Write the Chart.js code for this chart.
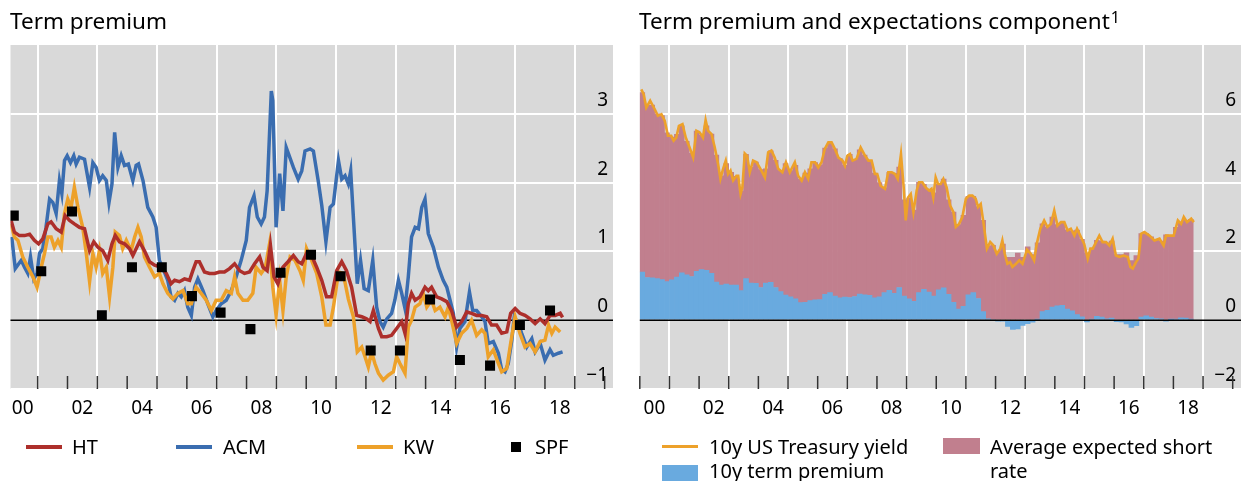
<!DOCTYPE html>
<html>
<head>
<meta charset="utf-8">
<script src="https://cdn.jsdelivr.net/npm/chart.js@4.4.1/dist/chart.umd.min.js"></script>
<style>
  html, body { margin:0; padding:0; background:#fff; width:1242px; height:481px; overflow:hidden; }
  body { position:relative; font-family:"Noto Sans", sans-serif; color:#000; }
  canvas { position:absolute; top:0; }
  #leftChart { left:0; }
  #rightChart { left:630px; }
  .title { position:absolute; top:6px; font-size:22.5px; line-height:30px; white-space:nowrap; }
  .title sup { font-size:16px; vertical-align:top; position:relative; top:-4px; margin-left:1px; }
  .lg { position:absolute; font-size:20px; line-height:24px; white-space:nowrap; }
  .sw { position:absolute; }
</style>
</head>
<body>
<canvas id="leftChart" width="630" height="481"></canvas>
<canvas id="rightChart" width="630" height="481"></canvas>

<div class="title" style="left:10px">Term premium</div>
<div class="title" style="left:639px">Term premium and expectations component<sup>1</sup></div>

<!-- left legend -->
<div class="sw" style="left:26px;top:445px;width:36px;height:4px;background:#ad2f2b"></div>
<div class="lg" style="left:72px;top:435px">HT</div>
<div class="sw" style="left:176px;top:445px;width:36px;height:4px;background:#3a6db0"></div>
<div class="lg" style="left:223px;top:435px">ACM</div>
<div class="sw" style="left:357px;top:445px;width:36px;height:4px;background:#eda12a"></div>
<div class="lg" style="left:403px;top:435px">KW</div>
<div class="sw" style="left:511px;top:442px;width:10px;height:10px;background:#000"></div>
<div class="lg" style="left:535px;top:435px">SPF</div>

<!-- right legend -->
<div class="sw" style="left:662px;top:445px;width:36px;height:3px;background:#eda12a"></div>
<div class="lg" style="left:709px;top:435px">10y US Treasury yield</div>
<div class="sw" style="left:662px;top:465px;width:36px;height:16px;background:#69aadf"></div>
<div class="lg" style="left:709px;top:459px">10y term premium</div>
<div class="sw" style="left:943px;top:438px;width:37px;height:16px;background:#c17f8e"></div>
<div class="lg" style="left:990px;top:435px">Average expected short</div>
<div class="lg" style="left:990px;top:459px">rate</div>

<script>
// ---- left panel: term premium estimates, [decimal year, % pts] ----
const htSeries = [[2000.11,1.45],[2000.22,1.28],[2000.39,1.23],[2000.56,1.23],[2000.73,1.25],[2000.89,1.16],[2001.03,1.11],[2001.17,1.18],[2001.34,1.40],[2001.45,1.43],[2001.62,1.33],[2001.79,1.28],[2001.92,1.52],[2002.07,1.45],[2002.23,1.40],[2002.40,1.35],[2002.57,1.33],[2002.74,1.01],[2002.88,1.14],[2003.02,1.06],[2003.18,1.01],[2003.35,0.87],[2003.49,1.11],[2003.60,1.23],[2003.74,1.14],[2003.91,1.11],[2004.08,1.04],[2004.19,0.94],[2004.30,1.04],[2004.41,1.14],[2004.58,1.01],[2004.75,0.85],[2004.92,0.80],[2005.14,0.77],[2005.31,0.68],[2005.47,0.53],[2005.59,0.58],[2005.75,0.56],[2005.92,0.60],[2006.09,0.58],[2006.20,0.72],[2006.31,0.85],[2006.42,0.85],[2006.59,0.70],[2006.76,0.68],[2006.93,0.68],[2007.09,0.70],[2007.26,0.70],[2007.43,0.75],[2007.60,0.82],[2007.77,0.72],[2007.93,0.68],[2008.10,0.70],[2008.27,0.82],[2008.44,0.92],[2008.55,0.77],[2008.69,0.72],[2008.80,1.09],[2008.92,0.63],[2009.05,0.53],[2009.22,0.77],[2009.39,0.85],[2009.57,0.94],[2009.73,0.85],[2009.85,0.82],[2010.01,0.97],[2010.18,0.94],[2010.35,0.77],[2010.52,0.58],[2010.68,0.34],[2010.85,0.34],[2011.02,0.72],[2011.19,0.85],[2011.35,0.72],[2011.52,0.48],[2011.69,0.07],[2011.86,0.05],[2012.02,0.02],[2012.14,-0.02],[2012.25,0.14],[2012.42,-0.12],[2012.53,-0.24],[2012.70,-0.24],[2012.86,-0.22],[2013.03,-0.12],[2013.20,-0.02],[2013.31,-0.19],[2013.42,0.24],[2013.53,0.39],[2013.65,0.29],[2013.81,0.34],[2013.98,0.48],[2014.09,0.43],[2014.20,0.48],[2014.37,0.34],[2014.54,0.31],[2014.71,0.27],[2014.87,0.14],[2015.04,-0.10],[2015.21,-0.02],[2015.38,0.12],[2015.54,0.10],[2015.71,0.07],[2015.88,0.07],[2016.05,0.05],[2016.21,-0.07],[2016.38,-0.07],[2016.55,-0.19],[2016.72,-0.17],[2016.85,0.10],[2017.00,0.17],[2017.16,0.10],[2017.33,0.07],[2017.50,0.02],[2017.67,-0.05],[2017.84,0.02],[2018.00,-0.05],[2018.17,0.07],[2018.34,0.07],[2018.51,0.10],[2018.59,0.04]];

const acmSeries = [[2000.13,1.21],[2000.25,0.75],[2000.45,0.87],[2000.56,0.77],[2000.67,0.68],[2000.76,0.92],[2000.87,0.60],[2000.98,0.68],[2001.06,0.97],[2001.17,1.04],[2001.28,1.35],[2001.40,1.76],[2001.51,1.71],[2001.62,1.55],[2001.73,2.03],[2001.81,1.84],[2001.90,2.32],[2001.99,2.39],[2002.10,2.29],[2002.21,2.39],[2002.29,2.27],[2002.40,2.37],[2002.57,2.34],[2002.74,1.93],[2002.85,2.29],[2002.96,2.22],[2003.07,2.03],[2003.18,2.10],[2003.30,2.03],[2003.39,1.71],[2003.49,1.98],[2003.58,2.73],[2003.69,2.22],[2003.80,2.39],[2003.91,2.25],[2004.04,2.27],[2004.19,2.03],[2004.30,2.25],[2004.38,2.27],[2004.53,2.03],[2004.69,1.64],[2004.86,1.50],[2004.97,1.35],[2005.08,0.87],[2005.20,0.75],[2005.36,0.58],[2005.47,0.34],[2005.59,0.29],[2005.70,0.39],[2005.81,0.34],[2005.92,0.43],[2006.03,0.19],[2006.15,0.07],[2006.26,0.48],[2006.37,0.60],[2006.54,0.43],[2006.70,0.24],[2006.87,0.05],[2006.98,0.14],[2007.15,0.24],[2007.32,0.29],[2007.49,0.43],[2007.65,0.63],[2007.82,0.87],[2007.99,1.16],[2008.10,1.64],[2008.25,1.81],[2008.36,1.50],[2008.49,1.40],[2008.60,1.50],[2008.69,1.88],[2008.83,3.33],[2008.88,3.19],[2008.99,1.35],[2009.11,2.13],[2009.22,1.59],[2009.33,2.51],[2009.57,2.22],[2009.73,2.05],[2009.85,2.17],[2009.96,2.46],[2010.13,2.49],[2010.24,2.46],[2010.40,2.03],[2010.52,1.67],[2010.66,1.14],[2010.80,1.64],[2010.91,1.69],[2011.08,2.32],[2011.19,2.05],[2011.30,2.10],[2011.41,1.98],[2011.49,2.17],[2011.60,1.35],[2011.71,0.53],[2011.82,0.87],[2011.94,0.46],[2012.08,0.43],[2012.23,0.87],[2012.36,0.19],[2012.47,-0.02],[2012.58,-0.10],[2012.70,0.02],[2012.86,0.10],[2012.97,0.29],[2013.09,0.58],[2013.20,0.39],[2013.31,0.17],[2013.42,0.63],[2013.53,1.21],[2013.65,1.35],[2013.76,1.33],[2013.87,1.64],[2013.98,1.76],[2014.09,1.26],[2014.26,1.06],[2014.43,0.77],[2014.59,0.58],[2014.71,0.48],[2014.82,0.29],[2014.93,0.10],[2015.04,-0.39],[2015.15,-0.12],[2015.32,-0.02],[2015.47,0.41],[2015.58,0.14],[2015.71,0.14],[2015.88,0.05],[2015.99,-0.02],[2016.10,-0.34],[2016.27,-0.31],[2016.44,-0.48],[2016.55,-0.72],[2016.66,-0.75],[2016.77,-0.63],[2016.89,-0.29],[2016.97,0.05],[2017.11,-0.05],[2017.22,-0.19],[2017.39,-0.39],[2017.56,-0.27],[2017.67,-0.46],[2017.84,-0.34],[2018.00,-0.58],[2018.17,-0.43],[2018.28,-0.51],[2018.45,-0.48],[2018.59,-0.46]];

const kwSeries = [[2000.11,1.40],[2000.22,1.21],[2000.34,1.16],[2000.50,0.92],[2000.67,0.77],[2000.84,0.63],[2000.98,0.48],[2001.12,0.77],[2001.23,0.97],[2001.34,1.21],[2001.45,1.21],[2001.56,1.06],[2001.68,1.16],[2001.79,1.06],[2001.90,1.55],[2002.01,1.76],[2002.12,1.64],[2002.23,1.93],[2002.35,1.64],[2002.51,1.35],[2002.63,0.97],[2002.74,0.56],[2002.85,0.97],[2002.96,0.77],[2003.07,1.01],[2003.18,0.68],[2003.30,0.77],[2003.41,0.34],[2003.52,0.77],[2003.60,1.28],[2003.74,1.23],[2003.85,1.04],[2003.97,1.16],[2004.13,1.01],[2004.25,1.21],[2004.36,1.35],[2004.47,1.21],[2004.58,0.92],[2004.75,0.77],[2004.92,0.63],[2005.08,0.68],[2005.20,0.53],[2005.36,0.39],[2005.53,0.31],[2005.70,0.39],[2005.87,0.43],[2006.03,0.24],[2006.15,0.24],[2006.31,0.48],[2006.48,0.39],[2006.65,0.29],[2006.82,0.14],[2006.98,0.29],[2007.15,0.29],[2007.32,0.43],[2007.49,0.39],[2007.60,0.63],[2007.71,0.39],[2007.88,0.29],[2008.04,0.29],[2008.21,0.39],[2008.32,0.77],[2008.49,0.68],[2008.63,0.77],[2008.77,1.11],[2008.88,0.48],[2008.99,0.07],[2009.11,0.58],[2009.22,0.14],[2009.33,0.63],[2009.46,0.92],[2009.62,0.87],[2009.79,0.72],[2009.90,0.58],[2010.01,1.04],[2010.18,0.87],[2010.35,0.68],[2010.52,0.34],[2010.66,-0.07],[2010.80,-0.07],[2010.91,0.19],[2011.08,0.70],[2011.24,0.68],[2011.41,0.31],[2011.58,0.05],[2011.71,-0.46],[2011.86,-0.39],[2011.97,-0.53],[2012.08,-0.68],[2012.19,-0.46],[2012.30,-0.63],[2012.42,-0.77],[2012.58,-0.87],[2012.75,-0.80],[2012.92,-0.75],[2013.03,-0.53],[2013.14,-0.63],[2013.31,-0.77],[2013.42,-0.10],[2013.53,0.00],[2013.65,0.19],[2013.81,0.24],[2013.92,0.39],[2014.04,0.19],[2014.20,0.29],[2014.32,0.14],[2014.48,0.19],[2014.65,0.05],[2014.76,0.19],[2014.87,0.00],[2015.04,-0.34],[2015.21,-0.19],[2015.38,-0.12],[2015.54,0.00],[2015.71,-0.22],[2015.88,-0.14],[2015.99,-0.19],[2016.10,-0.53],[2016.27,-0.43],[2016.44,-0.63],[2016.55,-0.75],[2016.72,-0.70],[2016.85,-0.34],[2017.00,0.05],[2017.16,-0.19],[2017.33,-0.39],[2017.50,-0.34],[2017.67,-0.46],[2017.84,-0.31],[2018.00,-0.29],[2018.12,-0.07],[2018.23,-0.19],[2018.34,-0.10],[2018.51,-0.17]];

const spfSeries = [[2000.20,1.52],[2001.12,0.71],[2002.15,1.58],[2003.15,0.07],[2004.16,0.77],[2005.16,0.77],[2006.17,0.35],[2007.13,0.11],[2008.13,-0.13],[2009.14,0.69],[2010.16,0.95],[2011.15,0.64],[2012.16,-0.44],[2013.14,-0.44],[2014.15,0.30],[2015.15,-0.58],[2016.16,-0.66],[2017.16,-0.07],[2018.17,0.14]];

// ---- right panel: 10y yield decomposition, % ----
const yieldSeries = [[2000.05,6.71],[2000.13,6.57],[2000.22,6.18],[2000.35,6.38],[2000.50,6.14],[2000.61,5.94],[2000.73,5.99],[2000.84,5.80],[2000.95,5.36],[2001.06,5.36],[2001.14,5.22],[2001.23,5.31],[2001.32,5.65],[2001.44,5.70],[2001.55,5.31],[2001.68,5.02],[2001.80,4.73],[2001.91,5.51],[2002.02,5.46],[2002.13,5.31],[2002.22,5.82],[2002.30,5.51],[2002.42,5.41],[2002.53,5.02],[2002.64,4.54],[2002.72,4.11],[2002.81,4.40],[2002.90,4.64],[2002.98,4.25],[2003.06,4.35],[2003.15,4.06],[2003.26,4.20],[2003.32,4.20],[2003.40,3.67],[2003.46,3.86],[2003.54,4.85],[2003.62,4.78],[2003.71,4.30],[2003.82,4.64],[2003.94,4.59],[2004.07,4.40],[2004.22,4.15],[2004.33,4.88],[2004.44,4.93],[2004.55,4.73],[2004.67,4.40],[2004.81,4.30],[2004.93,4.59],[2005.06,4.30],[2005.23,4.59],[2005.34,4.20],[2005.46,4.06],[2005.57,4.30],[2005.68,4.11],[2005.79,4.59],[2005.91,4.59],[2006.02,4.44],[2006.13,4.59],[2006.24,4.98],[2006.36,5.17],[2006.47,5.17],[2006.58,4.98],[2006.70,4.73],[2006.84,4.64],[2006.92,4.49],[2007.00,4.78],[2007.09,4.83],[2007.18,4.64],[2007.31,4.69],[2007.45,5.02],[2007.60,4.78],[2007.71,4.64],[2007.82,4.64],[2007.93,4.25],[2008.01,4.25],[2008.12,3.91],[2008.27,3.82],[2008.38,4.30],[2008.50,4.30],[2008.61,4.25],[2008.70,4.11],[2008.81,4.83],[2008.91,3.77],[2008.97,2.90],[2009.05,3.57],[2009.14,3.67],[2009.23,3.14],[2009.34,3.77],[2009.42,4.01],[2009.53,4.01],[2009.64,3.86],[2009.76,3.77],[2009.84,3.82],[2009.90,3.57],[2009.98,4.15],[2010.06,3.96],[2010.15,3.96],[2010.24,4.11],[2010.35,3.86],[2010.47,3.33],[2010.58,3.14],[2010.66,2.71],[2010.77,2.80],[2010.88,3.00],[2011.00,3.53],[2011.11,3.62],[2011.22,3.62],[2011.33,3.53],[2011.41,3.29],[2011.50,3.38],[2011.59,2.85],[2011.71,2.08],[2011.82,2.27],[2011.93,2.17],[2012.04,1.93],[2012.16,2.08],[2012.23,2.32],[2012.31,1.93],[2012.40,1.64],[2012.49,1.69],[2012.57,1.55],[2012.69,1.64],[2012.80,1.74],[2012.91,1.64],[2013.06,2.05],[2013.19,1.93],[2013.30,1.74],[2013.39,2.22],[2013.51,2.66],[2013.64,2.90],[2013.75,2.71],[2013.87,2.80],[2013.98,3.19],[2014.09,2.75],[2014.21,2.85],[2014.32,2.85],[2014.43,2.61],[2014.54,2.66],[2014.66,2.46],[2014.75,2.66],[2014.88,2.42],[2014.99,2.22],[2015.11,1.79],[2015.20,2.08],[2015.28,2.08],[2015.39,2.27],[2015.50,2.46],[2015.61,2.27],[2015.73,2.27],[2015.84,2.17],[2015.95,2.37],[2016.06,1.88],[2016.18,1.84],[2016.32,1.88],[2016.46,1.84],[2016.55,1.55],[2016.63,1.50],[2016.74,1.69],[2016.82,1.79],[2016.91,2.51],[2017.02,2.56],[2017.19,2.46],[2017.36,2.32],[2017.53,2.37],[2017.67,2.17],[2017.75,2.46],[2017.90,2.46],[2018.01,2.46],[2018.15,2.90],[2018.26,2.80],[2018.35,3.00],[2018.46,2.85],[2018.60,2.95],[2018.69,2.85]];

// bimonthly bars starting Jan 2000
const barStart = 2000;
const barStep = 1 / 6;
const termPremium = [1.40,1.24,1.23,1.21,1.18,1.12, 1.17,1.25,1.38,1.32,1.27,1.42, 1.47,1.45,1.36,1.11,1.02,1.05, 1.02,1.02,0.86,1.21,1.08,1.07, 0.95,1.08,1.10,0.95,0.83,0.73, 0.68,0.62,0.51,0.52,0.57,0.59, 0.60,0.75,0.80,0.70,0.65,0.67, 0.66,0.69,0.76,0.74,0.72,0.65, 0.68,0.80,0.87,0.78,0.95,0.70, 0.62,0.55,0.80,0.90,0.82,0.70, 0.88,0.94,0.75,0.52,0.32,0.40, 0.74,0.80,0.63,0.25,0.04,0.00, -0.01,-0.01,-0.18,-0.27,-0.25,-0.15, -0.10,-0.06,0.02,0.25,0.29,0.38, 0.42,0.43,0.32,0.27,0.16,0.10, -0.05,0.03,0.11,0.09,0.04,0.06, -0.04,-0.05,-0.11,-0.21,-0.16,0.09, 0.13,0.09,0.05,0.04,-0.02,0.01, 0.03,0.07,0.06,0.02];
const expectedShort = [5.22,5.01,5.02,4.79,4.77,4.33, 4.15,4.15,4.27,3.88,3.58,4.08, 3.91,4.20,4.05,3.69,3.18,3.50, 3.28,3.16,2.89,3.61,3.37,3.53, 3.43,3.32,3.82,3.70,3.52,3.82, 3.67,3.88,3.59,3.76,3.83,3.99, 3.92,4.25,4.37,4.28,4.05,3.83, 4.16,3.98,4.19,4.06,3.92,3.63, 3.32,3.05,3.43,3.49,3.50,2.80, 2.93,2.65,3.21,3.05,2.96,3.00, 3.08,3.16,2.75,2.62,2.46,2.65, 2.86,2.80,2.67,2.65,2.11,2.18, 2.01,2.21,1.83,1.83,1.95,1.83, 2.13,1.91,2.23,2.55,2.42,2.62, 2.36,2.42,2.31,2.33,2.46,2.25, 1.95,2.05,2.21,2.21,2.21,2.24, 1.91,1.91,1.96,1.73,1.88,2.43, 2.39,2.33,2.29,2.26,2.48,2.45, 2.67,2.75,2.84,2.91];

// axis ticks: gridlines at odd years, labels centred on the even year
const gridYears = [2001, 2003, 2005, 2007, 2009, 2011, 2013, 2015, 2017, 2019];
const yearLabels = ['00', '02', '04', '06', '08', '10', '12', '14', '16', '18'];

const RED = '#ad2f2b', BLUE = '#3a6db0', ORANGE = '#eda12a';
const TP_BLUE = '#69aadf', PINK = '#c17f8e', PANEL = '#d9d9d9';
const FONT = { family: '"Noto Sans", sans-serif', size: 19 };

const toPoints = s => s.map(p => ({ x: p[0], y: p[1] }));
const barPoints = vals => vals.map((v, i) => ({ x: barStart + (i + 0.5) * barStep, y: v }));
const fmtNum = v => (v < 0 ? '\u2212' + Math.abs(v) : String(v));

// grey panel, year tick marks and the black zero line
const panelDeco = {
    id: 'panelDeco',
    beforeDraw(chart) {
        const { ctx, chartArea: a } = chart;
        ctx.save();
        ctx.fillStyle = PANEL;
        ctx.fillRect(a.left, a.top, a.width, a.height);
        ctx.restore();
    },
    beforeDatasetsDraw(chart, args, opts) {
        const { ctx, chartArea: a } = chart;
        const xs = chart.scales.x;
        ctx.save();
        ctx.strokeStyle = '#333';
        ctx.lineWidth = 1.5;
        ctx.beginPath();
        for (let yr = Math.ceil(xs.min); yr <= xs.max; yr++) {
            const px = xs.getPixelForValue(yr);
            ctx.moveTo(px, a.bottom);
            ctx.lineTo(px, a.bottom - 13);
        }
        ctx.stroke();
        ctx.restore();
        if (!opts.zeroOnTop) drawZero(chart);
    },
    afterDatasetsDraw(chart, args, opts) {
        if (opts.zeroOnTop) drawZero(chart);
    }
};

function drawZero(chart) {
    const { ctx, chartArea: a } = chart;
    const py = chart.scales.y.getPixelForValue(0);
    ctx.save();
    ctx.strokeStyle = '#000';
    ctx.lineWidth = 1.6;
    ctx.beginPath();
    ctx.moveTo(a.left, py);
    ctx.lineTo(a.right, py);
    ctx.stroke();
    ctx.restore();
}

function xScale(min, max) {
    return {
        type: 'linear', min: min, max: max, offset: false,
        afterBuildTicks: s => { s.ticks = gridYears.map(v => ({ value: v })); },
        afterFit: s => { s.height = 38; },
        grid: { color: '#fff', lineWidth: 2, drawTicks: false, offset: false },
        border: { display: false },
        ticks: {
            padding: 8, labelOffset: -15, autoSkip: false, maxRotation: 0,
            color: '#000', font: FONT,
            callback: (v, i) => yearLabels[i]
        }
    };
}

function yScale(min, max, step, stacked) {
    return {
        position: 'right', min: min, max: max, stacked: stacked,
        afterFit: s => { s.width = 0; },
        grid: {
            color: c => (c.tick.value === max || c.tick.value === 0) ? 'rgba(0,0,0,0)' : '#fff',
            lineWidth: 2, drawTicks: false
        },
        border: { display: false },
        ticks: {
            stepSize: step, mirror: true, padding: -5, labelOffset: -13.5,
            color: '#000', font: FONT,
            callback: v => (v === max ? '' : fmtNum(v))
        }
    };
}

const common = {
    animation: false,
    responsive: false,
    devicePixelRatio: 1,
    events: []
};

new Chart(document.getElementById('leftChart'), {
    type: 'line',
    data: {
        datasets: [
            { label: 'SPF', data: toPoints(spfSeries), showLine: false, pointStyle: 'rect',
              pointRadius: 7.1, pointBackgroundColor: '#000', pointBorderWidth: 0, borderColor: '#000' },
            { label: 'HT', data: toPoints(htSeries), borderColor: RED, borderWidth: 3.5, pointRadius: 0, tension: 0 },
            { label: 'KW', data: toPoints(kwSeries), borderColor: ORANGE, borderWidth: 3.5, pointRadius: 0, tension: 0 },
            { label: 'ACM', data: toPoints(acmSeries), borderColor: BLUE, borderWidth: 3.5, pointRadius: 0, tension: 0 }
        ]
    },
    options: Object.assign({}, common, {
        layout: { padding: { left: 10.5, top: 45, right: 17, bottom: 54 } },
        plugins: { legend: { display: false }, tooltip: { enabled: false }, panelDeco: { zeroOnTop: false } },
        scales: { x: xScale(2000.09, 2020.28), y: yScale(-1, 4, 1, false) }
    }),
    plugins: [panelDeco]
});

new Chart(document.getElementById('rightChart'), {
    type: 'bar',
    data: {
        datasets: [
            { type: 'line', label: '10y US Treasury yield', data: toPoints(yieldSeries), stack: 'yield',
              borderColor: ORANGE, borderWidth: 2.6, pointRadius: 0, tension: 0 },
            { label: '10y term premium', data: barPoints(termPremium), stack: 'bars',
              backgroundColor: TP_BLUE, borderWidth: 0, barPercentage: 1, categoryPercentage: 1 },
            { label: 'Average expected short rate', data: barPoints(expectedShort), stack: 'bars',
              backgroundColor: PINK, borderWidth: 0, barPercentage: 1, categoryPercentage: 1 }
        ]
    },
    options: Object.assign({}, common, {
        layout: { padding: { left: 9.8, top: 45, right: 19, bottom: 54 } },
        plugins: { legend: { display: false }, tooltip: { enabled: false }, panelDeco: { zeroOnTop: true } },
        scales: { x: xScale(2000, 2020.28), y: yScale(-2, 8, 2, true) }
    }),
    plugins: [panelDeco]
});
</script>
</body>
</html>
